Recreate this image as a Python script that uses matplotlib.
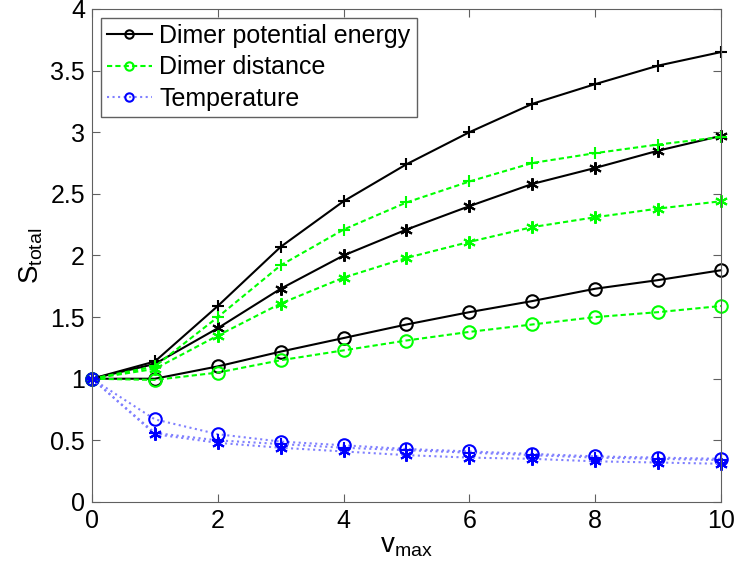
import matplotlib.pyplot as plt
import numpy as np

plt.rcParams['font.family'] = ['Liberation Sans', 'DejaVu Sans']

v_max = np.arange(0, 11)

# Dimer potential energy (black, solid)
energy_o = [1, 1.00, 1.10, 1.22, 1.33, 1.44, 1.54, 1.63, 1.73, 1.80, 1.88]
energy_star = [1, 1.12, 1.41, 1.73, 2.00, 2.21, 2.40, 2.58, 2.71, 2.85, 2.97]
energy_plus = [1, 1.14, 1.59, 2.07, 2.44, 2.74, 3.00, 3.23, 3.39, 3.54, 3.65]

# Dimer distance (green, dashed)
dist_o = [1, 0.99, 1.05, 1.15, 1.23, 1.31, 1.38, 1.44, 1.50, 1.54, 1.59]
dist_star = [1, 1.08, 1.35, 1.61, 1.82, 1.98, 2.11, 2.23, 2.31, 2.38, 2.44]
dist_plus = [1, 1.10, 1.50, 1.92, 2.21, 2.43, 2.60, 2.75, 2.83, 2.90, 2.96]

# Temperature (blue, dotted)
temp_o = [1, 0.67, 0.55, 0.49, 0.46, 0.43, 0.41, 0.39, 0.37, 0.36, 0.35]
temp_plus = [1, 0.56, 0.50, 0.47, 0.44, 0.42, 0.40, 0.38, 0.36, 0.35, 0.34]
temp_star = [1, 0.55, 0.48, 0.44, 0.41, 0.38, 0.36, 0.35, 0.33, 0.32, 0.31]

fig = plt.figure(figsize=(7.37, 5.76), dpi=100)
ax = fig.add_axes([0.1248, 0.1285, 0.8535, 0.856])

ms = 9
mew = 1.5

def draw(y, color, ls, marker, label=None, line_color=None):
    ax.plot(v_max, y, color=line_color or color, linestyle=ls, linewidth=1.5,
            marker=marker, markersize=ms, markeredgewidth=mew,
            markerfacecolor='none', markeredgecolor=color, label=label,
            clip_on=False)

green_ls = (0, (2.5, 1.5))

draw(energy_o, 'black', '-', 'o', 'Dimer potential energy')
draw(dist_o, '#00ff00', green_ls, 'o', 'Dimer distance')
draw(temp_o, '#0000ff', ':', 'o', 'Temperature', line_color='#8080ff')

draw(energy_star, 'black', '-', (6, 2, 0))
draw(energy_plus, 'black', '-', '+')
draw(dist_star, '#00ff00', green_ls, (6, 2, 0))
draw(dist_plus, '#00ff00', green_ls, '+')
draw(temp_plus, '#0000ff', ':', '+', line_color='#8080ff')
draw(temp_star, '#0000ff', ':', (6, 2, 0), line_color='#8080ff')

ax.set_xlim(0, 10)
ax.set_ylim(0, 4)
ax.set_xticks(np.arange(0, 11, 2))
ax.set_yticks(np.arange(0, 4.01, 0.5))
ax.set_yticklabels(['0', '0.5', '1', '1.5', '2', '2.5', '3', '3.5', '4'])
for s in ax.spines.values():
    s.set_color('#606060')
ax.tick_params(direction='in', top=True, right=True, labelsize=18, length=6,
               color='#606060', pad=5)
ax.set_xlabel(r'$\mathregular{v_{max}}$', fontsize=20, labelpad=0)
ax.set_ylabel(r'$\mathregular{S_{total}}$', fontsize=20, labelpad=4)

leg = ax.legend(loc='upper left', fontsize=18, fancybox=False, edgecolor='#606060',
                handlelength=1.8, handletextpad=0.3, borderpad=0.25, labelspacing=0.3,
                borderaxespad=0.35, framealpha=1)
leg.get_frame().set_linewidth(1.0)
for h in leg.legend_handles:
    h.set_markersize(6)

fig.savefig('out.png', dpi=100)
